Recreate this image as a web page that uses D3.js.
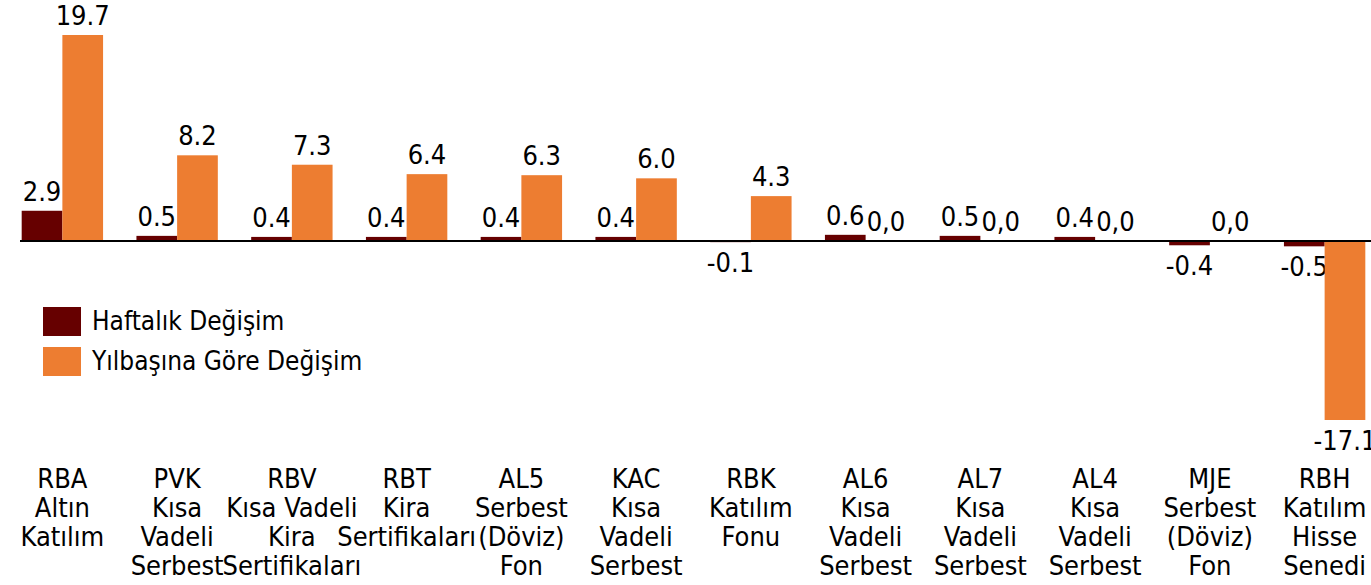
<!DOCTYPE html>
<html>
<head>
<meta charset="utf-8">
<script src="https://cdn.jsdelivr.net/npm/d3@7"></script>
<style>
  html, body { margin: 0; padding: 0; background: #fff; overflow: hidden; }
  text { font-family: "DejaVu Sans Condensed", "DejaVu Sans", sans-serif; fill: #000; }
</style>
</head>
<body>
<svg></svg>
<script>
var WIDTH = 1371;
var HEIGHT = 585;

// fund codes and label lines under the axis
var codes = ['RBA', 'PVK', 'RBV', 'RBT', 'AL5', 'KAC', 'RBK', 'AL6', 'AL7', 'AL4', 'MJE', 'RBH'];
var labelLines = [
    ['RBA', 'Altın', 'Katılım'],
    ['PVK', 'Kısa', 'Vadeli', 'Serbest'],
    ['RBV', 'Kısa Vadeli', 'Kira', 'Sertifikaları'],
    ['RBT', 'Kira', 'Sertifikaları'],
    ['AL5', 'Serbest', '(Döviz)', 'Fon'],
    ['KAC', 'Kısa', 'Vadeli', 'Serbest'],
    ['RBK', 'Katılım', 'Fonu'],
    ['AL6', 'Kısa', 'Vadeli', 'Serbest'],
    ['AL7', 'Kısa', 'Vadeli', 'Serbest'],
    ['AL4', 'Kısa', 'Vadeli', 'Serbest'],
    ['MJE', 'Serbest', '(Döviz)', 'Fon'],
    ['RBH', 'Katılım', 'Hisse', 'Senedi']
];

var seriesNames = ['Haftalık Değişim', 'Yılbaşına Göre Değişim'];
var seriesColors = ['#660000', '#ED7D31'];

var weekly = [2.9, 0.5, 0.4, 0.4, 0.4, 0.4, -0.1, 0.6, 0.5, 0.4, -0.4, -0.5];
var yearly = [19.7, 8.2, 7.3, 6.4, 6.3, 6.0, 4.3, 0.0, 0.0, 0.0, 0.0, -17.1];

var rows = codes.map(function(c, i) {
    return { code: c, lines: labelLines[i], values: [weekly[i], yearly[i]] };
});

var svg = d3.select('svg')
    .attr('width', WIDTH)
    .attr('height', HEIGHT);

var x0 = d3.scaleBand()
    .domain(codes)
    .range([5, 1382]);

var x1 = d3.scaleBand()
    .domain([0, 1])
    .range([0, x0.bandwidth()])
    .paddingOuter(0.41);

var y = d3.scaleLinear()
    .domain([-17.1, 19.7])
    .range([420, 35]);

function fmt(v) {
    return v === 0 ? '0,0' : v.toFixed(1); // the source shows zero with a comma
}

var groups = svg.selectAll('g.cat')
    .data(rows)
    .enter()
    .append('g')
    .attr('class', 'cat')
    .attr('transform', function(d) { return 'translate(' + x0(d.code) + ',0)'; });

var cells = groups.selectAll('g.cell')
    .data(function(d) { return d.values.map(function(v, k) { return { k: k, v: v }; }); })
    .enter()
    .append('g');

cells.append('rect')
    .attr('x', function(d) { return x1(d.k); })
    .attr('width', x1.bandwidth())
    .attr('y', function(d) { return y(Math.max(0, d.v)); })
    .attr('height', function(d) { return Math.abs(y(d.v) - y(0)); })
    .attr('fill', function(d) { return seriesColors[d.k]; });

cells.append('text')
    .attr('x', function(d) { return x1(d.k) + x1.bandwidth() / 2; })
    .attr('y', function(d) {
        return d.v >= 0 ? y(d.v) - 10 : y(d.v) + 30;
    })
    .attr('text-anchor', 'middle')
    .style('font-size', '27px')
    .text(function(d) { return fmt(d.v); });

// zero line
svg.append('line')
    .attr('x1', 20)
    .attr('x2', WIDTH)
    .attr('y1', y(0))
    .attr('y2', y(0))
    .attr('stroke', '#000')
    .attr('stroke-width', 2);

// category labels
var labels = svg.selectAll('text.cat')
    .data(rows)
    .enter()
    .append('text')
    .attr('class', 'cat')
    .attr('text-anchor', 'middle')
    .style('font-size', '27px');

labels.selectAll('tspan')
    .data(function(d) {
        return d.lines.map(function(l, i) { return { t: l, i: i, cx: x0(d.code) + x0.bandwidth() / 2 }; });
    })
    .enter()
    .append('tspan')
    .attr('x', function(d) { return d.cx; })
    .attr('y', function(d) { return 488 + d.i * 29; })
    .text(function(d) { return d.t; });

// legend
var legend = svg.selectAll('g.legend')
    .data(seriesNames)
    .enter()
    .append('g')
    .attr('transform', function(d, i) { return 'translate(43,' + (307 + i * 40) + ')'; });

legend.append('rect')
    .attr('width', 38)
    .attr('height', 29)
    .attr('fill', function(d, i) { return seriesColors[i]; });

legend.append('text')
    .attr('x', 49)
    .attr('y', 23)
    .style('font-size', '26px')
    .text(function(d) { return d; });
</script>
</body>
</html>
